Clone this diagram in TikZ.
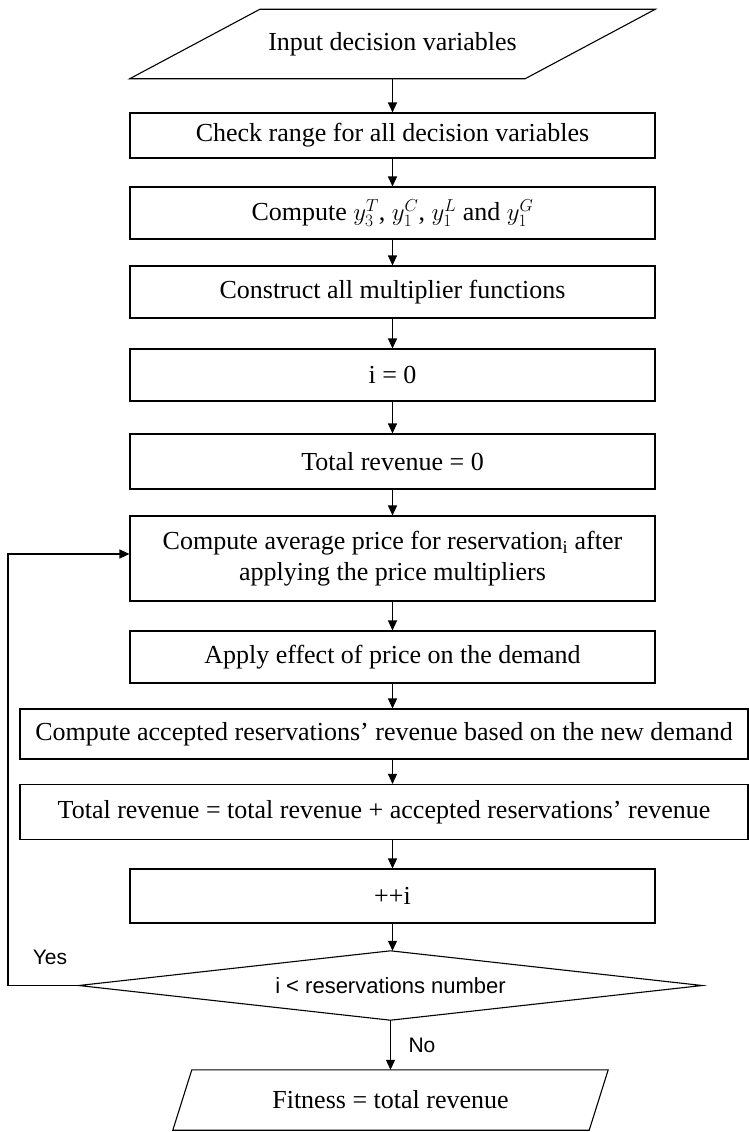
\documentclass[tikz,border=0pt]{standalone}
\usepackage{fontspec}
\setmainfont{Liberation Serif}
\newfontfamily\sansf{Liberation Sans}
\usetikzlibrary{arrows.meta}
\begin{document}
\begin{tikzpicture}[x=1pt,y=-1pt,
  txt/.style={font=\fontsize{26}{31}\selectfont, inner sep=0pt, align=center},
  box/.style={txt, draw, line width=1.1pt, minimum width=525pt},
  widebox/.style={txt, draw, line width=1.1pt, minimum width=728pt},
  shp/.style={txt, minimum width=#1},
  lbl/.style={font=\sansf\fontsize{21}{25}\selectfont, inner sep=0pt},
  arr/.style={line width=1.1pt, -{Triangle[length=10pt,width=9pt]}},
  outline/.style={line width=1.1pt, line join=miter}
]
\useasboundingbox (0,0) rectangle (749,1132);

\node[shp=525pt, minimum height=69pt] (in) at (392.5,44) {Input decision variables};
\draw[outline] (in.south west) -- ([xshift=130pt]in.north west) -- (in.north east) -- ([xshift=-130pt]in.south east) -- cycle;

\node[box, minimum height=45pt] (check) at (392.5,135.5) {Check range for all decision variables};
\node[box, minimum height=52pt] (cy) at (392.5,213) {Compute $y_3^T$, $y_1^C$, $y_1^L$ and $y_1^G$};
\node[box, minimum height=52pt] (cons) at (392.5,292) {Construct all multiplier functions};
\node[box, minimum height=52pt] (i0) at (392.5,375) {i = 0};
\node[box, minimum height=55pt] (tr0) at (392.5,461.5) {Total revenue = 0};
\node[box, minimum height=85pt] (cavg) at (392.5,558.5) {Compute average price for reservation\textsubscript{i} after\\applying the price multipliers};
\node[box, minimum height=52pt] (apply) at (392.5,657) {Apply effect of price on the demand};
\node[widebox, minimum height=50pt] (acc) at (384,734) {Compute accepted reservations’ revenue based on the new demand};
\node[widebox, minimum height=55pt] (trt) at (384,812) {Total revenue = total revenue + accepted reservations’ revenue};
\node[box, minimum height=54pt] (inc) at (392.5,896) {++i};

\node[lbl, font=\sansf\fontsize{22}{26}\selectfont, minimum width=623pt, minimum height=69pt] (dia) at (390.5,985.5) {i < reservations number};
\draw[outline] (dia.west) -- (dia.north) -- (dia.east) -- (dia.south) -- cycle;

\node[shp=435pt, minimum height=60pt] (fit) at (390.5,1100) {Fitness = total revenue};
\draw[outline] (fit.south west) -- ([xshift=19pt]fit.north west) -- (fit.north east) -- ([xshift=-19pt]fit.south east) -- cycle;

\draw[arr] (in.south) -- (check.north);
\draw[arr] (check) -- (cy);
\draw[arr] (cy) -- (cons);
\draw[arr] (cons) -- (i0);
\draw[arr] (i0) -- (tr0);
\draw[arr] (tr0) -- (cavg);
\draw[arr] (cavg) -- (apply);
\draw[arr] (apply.south) -- (apply.south |- acc.north);
\draw[arr] (apply.south |- acc.south) -- (apply.south |- trt.north);
\draw[arr] (inc.north |- trt.south) -- (inc.north);
\draw[arr] (inc.south) -- (inc.south |- dia.north);
\draw[arr] (dia.south) -- (fit.north);

\coordinate (lb) at (8,985.5);
\coordinate (lt) at (8,554);
\draw[arr] (dia.west) -- (lb) -- (lt) -- (cavg.west |- lt);

\node[lbl] (yes) at (50,957) {Yes};
\node[lbl] (no) at (422,1045) {No};
\end{tikzpicture}
\end{document}
